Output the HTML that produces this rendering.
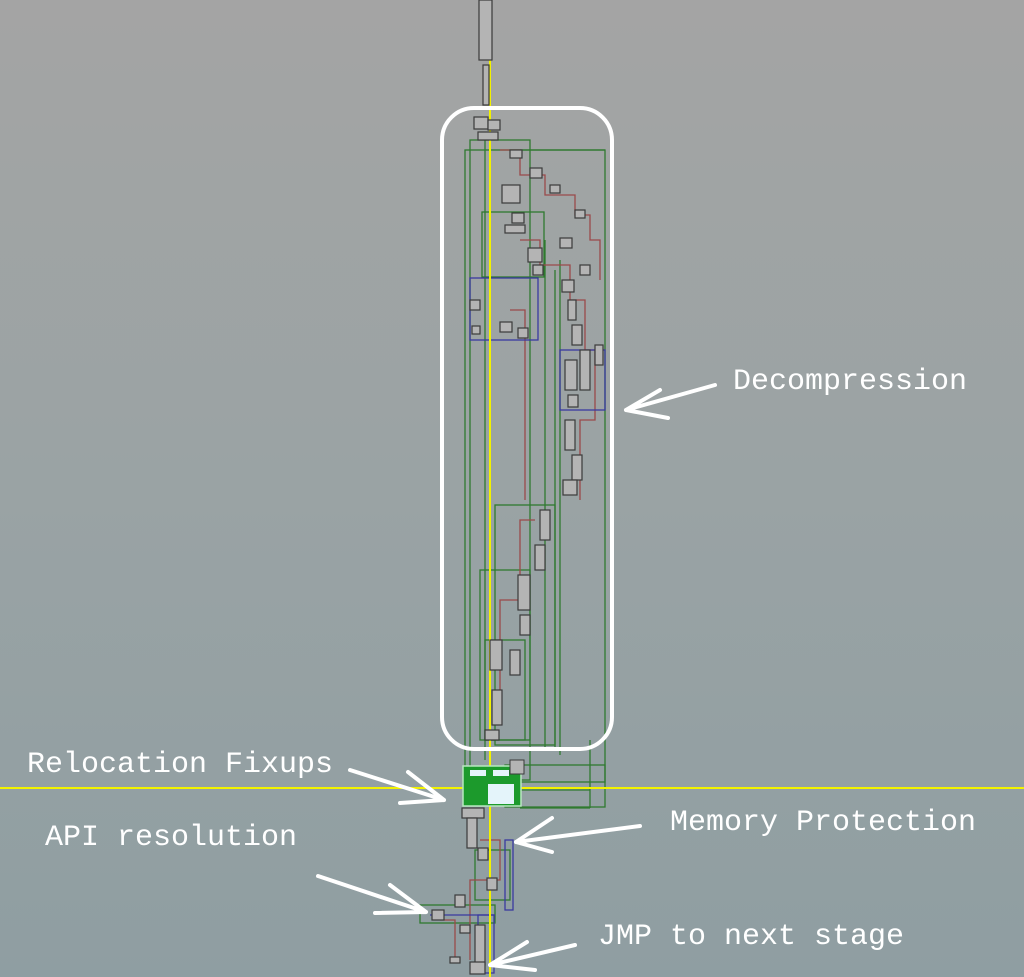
<!DOCTYPE html>
<html><head><meta charset="utf-8"><style>
html,body{margin:0;padding:0}
body{width:1024px;height:977px;overflow:hidden;background:linear-gradient(#a4a4a4,#9aa3a4 50%,#8f9ea2);position:relative;font-family:"Liberation Mono",monospace}
.t{position:absolute;color:#fff;font-size:30px;line-height:30px;white-space:nowrap}
svg{position:absolute;left:0;top:0}
</style></head><body>
<svg width="1024" height="977" viewBox="0 0 1024 977">
<g fill="none" stroke-width="1.3">
<!-- green structure -->
<g stroke="#2f7a2f">
<rect x="465" y="150" width="140" height="632"/>
<rect x="470" y="140" width="60" height="640"/>
<line x1="485" y1="140" x2="485" y2="760"/>
<line x1="520" y1="150" x2="605" y2="150"/>
<rect x="482" y="212" width="62" height="65"/>
<line x1="545" y1="240" x2="545" y2="750"/>
<line x1="555" y1="270" x2="555" y2="750"/>
<line x1="560" y1="260" x2="560" y2="755"/>
<rect x="495" y="505" width="60" height="240"/>
<rect x="480" y="570" width="50" height="170"/>
<rect x="485" y="640" width="40" height="100"/>
<line x1="470" y1="790" x2="590" y2="790"/>
<line x1="590" y1="740" x2="590" y2="808"/>
<line x1="520" y1="808" x2="590" y2="808"/>
<rect x="505" y="765" width="100" height="42"/>
<rect x="475" y="850" width="35" height="50"/>
<rect x="420" y="905" width="75" height="18"/>
</g>
<g stroke="#9a4a4a">
<polyline points="500,150 520,150 520,175 545,175 545,195 575,195 575,215 590,215 590,240 600,240 600,280"/>
<polyline points="520,240 540,240 540,265 570,265 570,300 585,300 585,350 595,350 595,420 580,420 580,500"/>
<polyline points="510,310 525,310 525,500"/>
<polyline points="535,520 520,520 520,600 500,600 500,700"/>
<polyline points="480,840 500,840 500,880 470,880 470,960"/>
<polyline points="440,920 455,920 455,960"/>
</g>
<g stroke="#3a3aa0">
<rect x="470" y="278" width="68" height="62"/>
<rect x="560" y="350" width="45" height="60"/>
<rect x="505" y="840" width="8" height="70"/>
<rect x="478" y="915" width="16" height="58"/>
<line x1="430" y1="915" x2="495" y2="915"/>
</g>
</g>
<!-- yellow lines -->
<line x1="490" y1="0" x2="490" y2="977" stroke="#f2f200" stroke-width="2"/>
<line x1="0" y1="788" x2="1024" y2="788" stroke="#f2f200" stroke-width="2"/>
<!-- nodes -->
<g fill="#b4b4b4" stroke="#3a3a3a" stroke-width="1.2">
<rect x="479" y="0" width="13" height="60"/>
<rect x="483" y="65" width="6" height="40"/>
<rect x="474" y="117" width="14" height="12"/>
<rect x="488" y="120" width="12" height="10"/>
<rect x="478" y="132" width="20" height="8"/>
<rect x="502" y="185" width="18" height="18"/>
<rect x="510" y="150" width="12" height="8"/><rect x="530" y="168" width="12" height="10"/>
<rect x="550" y="185" width="10" height="8"/><rect x="575" y="210" width="10" height="8"/>
<rect x="512" y="213" width="12" height="10"/><rect x="505" y="225" width="20" height="8"/>
<rect x="560" y="238" width="12" height="10"/><rect x="580" y="265" width="10" height="10"/>
<rect x="528" y="248" width="14" height="14"/><rect x="533" y="265" width="10" height="10"/>
<rect x="562" y="280" width="12" height="12"/><rect x="568" y="300" width="8" height="20"/>
<rect x="572" y="325" width="10" height="20"/><rect x="580" y="350" width="10" height="40"/>
<rect x="595" y="345" width="8" height="20"/><rect x="565" y="360" width="12" height="30"/>
<rect x="568" y="395" width="10" height="12"/><rect x="565" y="420" width="10" height="30"/>
<rect x="572" y="455" width="10" height="25"/><rect x="563" y="480" width="14" height="15"/>
<rect x="540" y="510" width="10" height="30"/><rect x="535" y="545" width="10" height="25"/>
<rect x="518" y="575" width="12" height="35"/><rect x="520" y="615" width="10" height="20"/>
<rect x="490" y="640" width="12" height="30"/><rect x="510" y="650" width="10" height="25"/>
<rect x="492" y="690" width="10" height="35"/><rect x="485" y="730" width="14" height="10"/>
<rect x="470" y="300" width="10" height="10"/><rect x="500" y="322" width="12" height="10"/>
<rect x="518" y="328" width="10" height="10"/><rect x="472" y="326" width="8" height="8"/>
<rect x="462" y="808" width="22" height="10"/>
<rect x="467" y="818" width="10" height="30"/>
<rect x="478" y="848" width="10" height="12"/><rect x="487" y="878" width="10" height="12"/>
<rect x="455" y="895" width="10" height="12"/><rect x="432" y="910" width="12" height="10"/>
<rect x="460" y="925" width="10" height="8"/><rect x="475" y="925" width="10" height="40"/>
<rect x="450" y="957" width="10" height="6"/><rect x="470" y="962" width="15" height="12"/>
</g>
<!-- relocation fixup highlighted block -->
<rect x="463" y="766" width="58" height="40" fill="#1c9a2c" stroke="#b8e8c0" stroke-width="1.5"/>
<rect x="488" y="784" width="26" height="20" fill="#e4f4fa"/>
<rect x="470" y="770" width="16" height="6" fill="#e4f4fa"/>
<rect x="493" y="770" width="16" height="6" fill="#e4f4fa"/>
<rect x="510" y="760" width="14" height="14" fill="#b4b4b4" stroke="#3a3a3a"/>
<!-- white frame -->
<rect x="442" y="108" width="170" height="641" rx="32" ry="32" fill="none" stroke="#fff" stroke-width="4"/>
<!-- arrows -->
<g stroke="#fff" stroke-width="4" fill="none" stroke-linecap="round" stroke-linejoin="round">
<path d="M715 385 L626 410 M626 410 L660 390 M626 410 L668 418"/>
<path d="M350 770 L444 800 M444 800 L408 772 M444 800 L400 803"/>
<path d="M640 826 L516 842 M516 842 L552 818 M516 842 L552 852"/>
<path d="M318 876 L426 912 M426 912 L390 885 M426 912 L375 913"/>
<path d="M575 945 L490 965 M490 965 L527 942 M490 965 L535 970"/>
</g>
</svg>
<div class="t" style="left:733px;top:367px">Decompression</div>
<div class="t" style="left:27px;top:750px">Relocation Fixups</div>
<div class="t" style="left:670px;top:808px">Memory Protection</div>
<div class="t" style="left:45px;top:823px">API resolution</div>
<div class="t" style="left:598px;top:922px">JMP to next stage</div>
</body></html>
